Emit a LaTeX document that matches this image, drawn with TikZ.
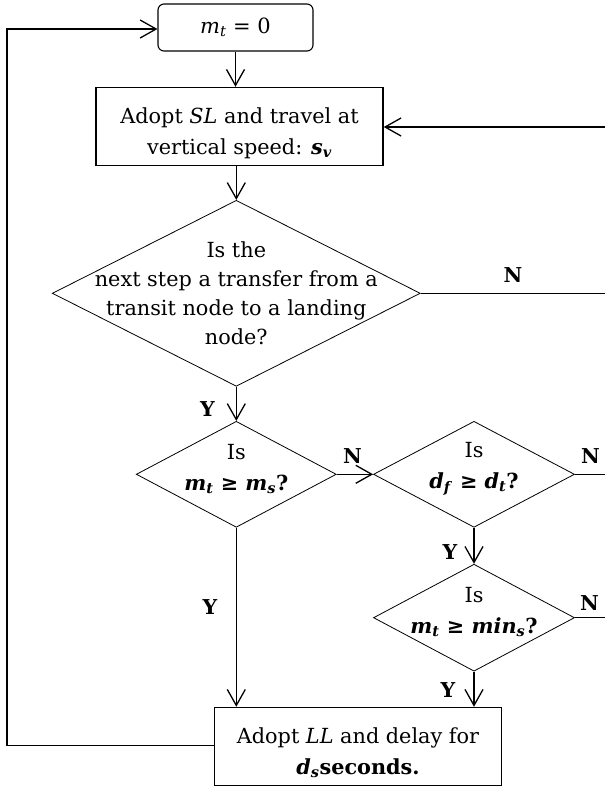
\documentclass[tikz,border=0pt]{standalone}
\usepackage{fontspec}
\setmainfont{DejaVu Serif}
\usetikzlibrary{shapes.geometric,arrows.meta}
\newcommand{\vsub}[2]{\textit{#1}\textsubscript{\textit{#2}}}
\begin{document}
\begin{tikzpicture}[x=1pt,y=-1pt,
  txt/.style={align=center, inner sep=0pt, font=\fontsize{20.8}{31}\selectfont},
  dtxt/.style={align=center, inner sep=0pt, font=\fontsize{20.8}{29}\selectfont},
  lbl/.style={inner sep=0pt, font=\fontsize{20.5}{24}\selectfont\bfseries},
  topbox/.style={draw, line width=1.1pt, rounded corners=6pt, minimum width=155pt, minimum height=47pt, inner sep=0pt, font=\fontsize{21}{24}\selectfont},
  box/.style={draw, line width=1.5pt, minimum width=287pt, minimum height=78pt, inner sep=0pt},
  dia/.style={draw, diamond, line width=0.8pt, inner sep=0pt},
  arr/.style={line width=1.3pt, -{Straight Barb[length=16pt,width=18pt]}},
  con/.style={line width=1.3pt}]
\useasboundingbox (0,0) rectangle (605,788);

% nodes
\node[topbox] (top) at (235.5,27.5) {\vsub{m}{t} = 0};
\node[box] (b2) at (239.5,126.5) {};
\node[txt] (b2t) at (239.5,133) {Adopt \textit{SL} and travel at\\vertical speed: \textbf{\vsub{s}{v}}};
\node[dia, minimum width=368pt, minimum height=186pt] (d1) at (236.3,293.3) {};
\node[dtxt] (d1t) at (236.3,293.3) {Is the\\next step a transfer from a\\transit node to a landing\\node?};
\node[dia, minimum width=200pt, minimum height=106pt] (d2) at (236.3,474.3) {};
\node[txt] (d2t) at (236.3,469) {Is\\\textbf{\vsub{m}{t} ≥ \vsub{m}{s}?}};
\node[dia, minimum width=201pt, minimum height=106pt] (d3) at (474,474.3) {};
\node[txt] (d3t) at (474,469) {Is\\\textbf{\vsub{d}{f} ≥ \vsub{d}{t}?}};
\node[dia, minimum width=201pt, minimum height=107pt] (d4) at (474,617.7) {};
\node[txt] (d4t) at (474,612) {Is\\\textbf{\vsub{m}{t} ≥ \vsub{min}{s}?}};
\node[box] (b3) at (358,746.5) {};
\node[txt] (b3t) at (358,753) {Adopt \textit{LL} and delay for\\\textbf{\vsub{d}{s}seconds.}};

% free ends at the right edge
\coordinate (e0) at (605,127);
\coordinate (e1) at (605,293.3);
\coordinate (e3) at (605,474.3);
\coordinate (e4) at (605,617.7);
\coordinate (l1) at (7,745.5);
\coordinate (l2) at (7,29);

% connectors
\draw[arr] (top.south) -- (top.south |- b2.north);
\draw[arr] (d1.north |- b2.south) -- (d1.north);
\draw[arr] (d1.south) -- (d2.north);
\draw[arr] (d2.east) -- (d3.west);
\draw[arr] (d3.south) -- (d4.north);
\draw[arr] (d2.south) -- (d2.south |- b3.north);
\draw[arr] (d4.south) -- (d4.south |- b3.north);
\draw[arr] (e0) -- (e0 -| b2.east);
\draw[con] (d1.east) -- (e1);
\draw[con] (d3.east) -- (e3);
\draw[con] (d4.east) -- (e4);
\draw[arr] (l1 -| b3.west) -- (l1) -- (l2) -- (l2 -| top.west);

% labels
\node[lbl] (n1) at (513,275) {N};
\node[lbl] (y1) at (207.5,409) {Y};
\node[lbl] (n2) at (352.5,456) {N};
\node[lbl] (n3) at (590.5,456) {N};
\node[lbl] (y2) at (450,552.5) {Y};
\node[lbl] (n4) at (589.5,603) {N};
\node[lbl] (y3) at (210,606.7) {Y};
\node[lbl] (y4) at (448,690) {Y};
\end{tikzpicture}
\end{document}
